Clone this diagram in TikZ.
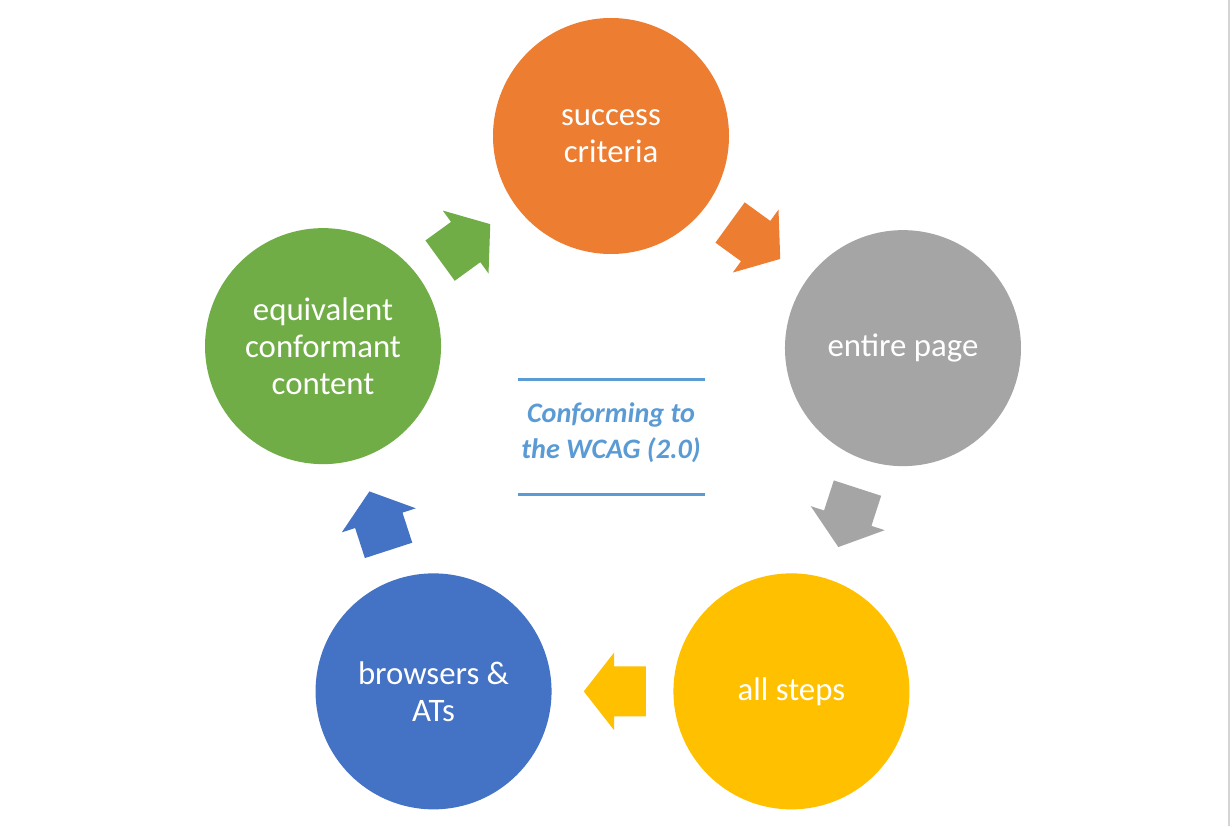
\documentclass[tikz,border=0pt]{standalone}
\usepackage{fontspec}
\setmainfont{Carlito}
\usetikzlibrary{shapes.arrows,calc}
\definecolor{corange}{HTML}{ED7D31}
\definecolor{cgray}{HTML}{A5A5A5}
\definecolor{cyellow}{HTML}{FFC000}
\definecolor{cblue}{HTML}{4472C4}
\definecolor{cgreen}{HTML}{70AD47}
\definecolor{wblue}{HTML}{5B9BD5}
\definecolor{rulegray}{HTML}{D4D4D4}
\begin{document}
\begin{tikzpicture}[x=0.5pt,y=0.5pt,
  stage/.style={circle,minimum size=118pt,inner sep=0pt,align=center,
    text=white,font=\fontsize{16.4}{18.5}\selectfont},
  turn/.style={single arrow,draw=none,inner xsep=0pt,inner ysep=12.25pt,
    minimum height=31pt,single arrow head extend=7pt,single arrow tip angle=104}]
\useasboundingbox (0,0) rectangle (1232,826);
\fill[white] (0,0) rectangle (1232,826);
\draw[rulegray, line width=1pt] (1228.5,0)--(1228.5,826);
\pgfmathsetmacro{\R}{307}
\coordinate (mid) at (611,383);
% the five stages
\node[stage,fill=corange] (sc) at ($(mid)+(90:\R)$) {success\\criteria};
\node[stage,fill=cgray] (ep) at ($(mid)+(18:\R)$) {entire page};
\node[stage,fill=cyellow] (as) at ($(mid)+(-54:\R)$) {all steps};
\node[stage,fill=cblue,xshift=1.5pt] (ba) at ($(mid)+(-126:\R)$) {browsers \&\\ATs};
\node[stage,fill=cgreen,xshift=2pt,yshift=1pt] (ec) at ($(mid)+(162:\R)$) {equivalent\\conformant\\content};
% arrows between them
\node[turn,fill=corange,rotate=-36,xshift=-6pt] (a1) at ($(sc)!0.5!(ep)$) {};
\node[turn,fill=cgray,rotate=-108,xshift=-6pt] (a2) at ($(ep)!0.5!(as)$) {};
\node[turn,fill=cyellow,rotate=180,xshift=-6pt] (a3) at ($(as)!0.5!(ba)$) {};
\node[turn,fill=cblue,rotate=108,xshift=-6pt] (a4) at ($(ba)!0.5!(ec)$) {};
\node[turn,fill=cgreen,rotate=36,xshift=-6pt] (a5) at ($(ec)!0.5!(sc)$) {};
% title in the middle
\node[text=wblue,align=center,font=\bfseries\itshape\fontsize{14.1}{18}\selectfont] (title) at (611,393) {Conforming to\\the WCAG (2.0)};
\draw[wblue,line width=1.5pt] (518,446)--(705,446);
\draw[wblue,line width=1.5pt] (518,332)--(705,332);
\end{tikzpicture}
\end{document}
